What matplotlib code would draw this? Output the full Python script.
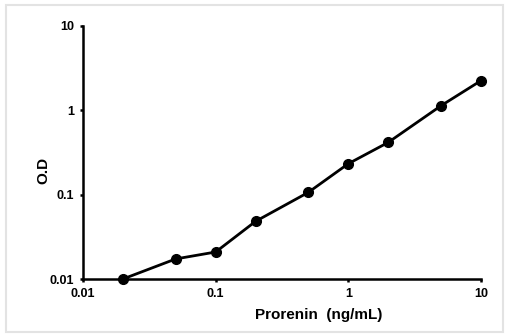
import matplotlib
matplotlib.use("Agg")
import matplotlib.pyplot as plt
from matplotlib.patches import Rectangle

conc = [0.02, 0.05, 0.1, 0.2, 0.5, 1, 2, 5, 10]
od = [0.0100, 0.0173, 0.0209, 0.0483, 0.1066, 0.233, 0.417, 1.135, 2.25]
xticks = [0.01, 0.1, 1, 10]
yticks = [0.01, 0.1, 1, 10]
xtick_labels = ["0.01", "0.1", "1", "10"]
ytick_labels = ["0.01", "0.1", "1", "10"]

plt.rcParams['font.family'] = ['Liberation Sans', 'DejaVu Sans']

fig = plt.figure(figsize=(5.06, 3.34), dpi=100)
fig.patches.append(Rectangle((6/506, 2/334), 497/506, 327/334, transform=fig.transFigure,
                             fill=False, edgecolor='#e3e3e3', linewidth=1.5))
ax = fig.add_axes([83/506, 1 - 279/334, 398/506, 253/334])
ax.set_xscale('log')
ax.set_yscale('log')
ax.plot(conc, od, color='black', linewidth=2.0, marker='o', markersize=7, clip_on=False, zorder=3)
ax.set_xlim(0.01, 10)
ax.set_ylim(0.01, 10)
ax.set_xticks(xticks)
ax.set_xticklabels(xtick_labels)
ax.set_yticks(yticks)
ax.set_yticklabels(ytick_labels)
ax.minorticks_off()
for s in ['top', 'right']:
    ax.spines[s].set_visible(False)
for s in ['left', 'bottom']:
    ax.spines[s].set_linewidth(1.8)
ax.tick_params(axis='both', length=2.5, width=1.8, labelsize=9, pad=4)
for lab in ax.get_xticklabels() + ax.get_yticklabels():
    lab.set_fontweight('bold')
ax.set_xlabel("Prorenin  (ng/mL)", fontsize=11, fontweight='bold')
ax.xaxis.set_label_coords((319 - 83) / 398, (279 - 315) / 253)
ax.xaxis.label.set_va('center')
ax.set_ylabel("O.D", fontsize=11, fontweight='bold')
ax.yaxis.set_label_coords((43 - 83) / 398, (279 - 170) / 253)
ax.yaxis.label.set_va('center')
fig.savefig("out.png", dpi=100)
